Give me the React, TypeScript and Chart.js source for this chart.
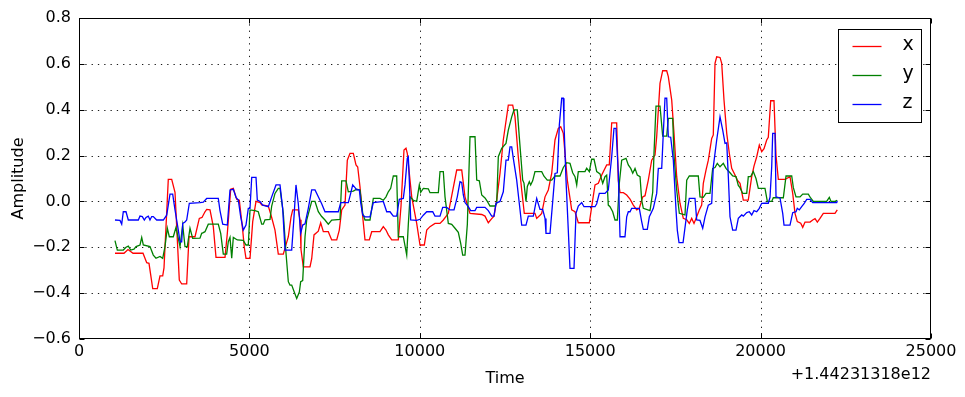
import React, { useEffect, useRef } from 'react';
import { Chart, registerables } from 'chart.js';

Chart.register(...registerables);

const FONT = 'DejaVu Sans';

const xTicks = [0, 5000, 10000, 15000, 20000, 25000];
const yTicks = [-0.6, -0.4, -0.2, 0, 0.2, 0.4, 0.6, 0.8];
const offsetLabel = '+1.44231318e12';
const seriesNames = ['x', 'y', 'z'];
const seriesColors = ['#ff0000', '#008000', '#0000ff'];

const seriesX: [number, number][] = [
  [1056,-0.226],[1320,-0.226],[1438,-0.21],[1585,-0.226],[1878,-0.226],[1987,-0.267],[2054,-0.27],[2163,-0.38],[2298,-0.38],[2377,-0.325],
  [2456,-0.325],[2494,-0.29],[2620,0.096],[2720,0.096],[2817,0.04],[2943,-0.343],[3014,-0.36],[3160,-0.36],[3228,-0.154],[3404,-0.154],
  [3530,-0.074],[3609,-0.07],[3697,-0.045],[3747,-0.035],[3844,-0.037],[3941,-0.11],[4020,-0.244],[4284,-0.244],[4352,-0.14],[4451,0.053],
  [4528,0.057],[4627,0.009],[4704,0.005],[4803,-0.125],[4850,-0.2],[4900,-0.248],[5018,-0.248],[5097,-0.088],[5194,0],[5311,-0.005],
  [5361,-0.015],[5555,-0.02],[5654,-0.07],[5751,-0.125],[5848,-0.23],[5995,-0.23],[6142,-0.154],[6220,-0.07],[6271,-0.037],[6435,-0.037],
  [6485,-0.08],[6514,-0.21],[6582,-0.285],[6778,-0.285],[6828,-0.25],[6896,-0.146],[7022,-0.13],[7092,-0.093],[7169,-0.132],[7315,-0.132],
  [7415,-0.168],[7562,-0.168],[7638,-0.125],[7708,-0.037],[7805,-0.016],[7873,0.18],[7952,0.21],[8049,0.21],[8128,0.159],[8178,0.15],
  [8245,0.064],[8325,-0.067],[8392,-0.168],[8518,-0.168],[8589,-0.132],[8832,-0.132],[8929,-0.11],[9008,-0.125],[9076,-0.146],[9176,-0.168],
  [9369,-0.168],[9449,-0.02],[9536,0.224],[9595,0.232],[9633,0.21],[9763,0.02],[9909,-0.096],[10006,-0.19],[10132,-0.19],[10203,-0.125],
  [10299,-0.11],[10446,-0.096],[10593,-0.096],[10690,-0.081],[10837,-0.052],[11083,0.137],[11230,0.137],[11326,0.02],[11473,-0.052],[11817,-0.057],
  [11913,-0.064],[12010,-0.093],[12110,-0.075],[12177,-0.064],[12256,0.006],[12353,0.122],[12450,0.268],[12597,0.42],[12726,0.42],[12793,0.37],
  [12890,0.195],[12990,0.05],[13066,-0.052],[13380,-0.052],[13430,-0.074],[13527,-0.06],[13577,-0.052],[13674,0.02],[13771,0.05],[13870,0.122],
  [13967,0.268],[14064,0.319],[14135,0.326],[14211,0.297],[14328,0.093],[14457,-0.037],[14554,-0.045],[14651,-0.093],[14974,-0.093],[15073,0.006],
  [15141,0.072],[15238,0.079],[15338,0.115],[15484,0.159],[15560,0.159],[15631,0.343],[15777,0.343],[15825,0.09],[15875,0.038],[15973,0.038],
  [16071,0.028],[16169,0.01],[16265,-0.016],[16365,-0.037],[16441,-0.03],[16541,0.02],[16609,0.025],[16705,0.093],[16805,0.18],[16902,0.202],
  [16951,0.282],[17048,0.515],[17127,0.57],[17245,0.57],[17292,0.544],[17392,0.442],[17459,0.297],[17538,0.108],[17635,-0.008],[17732,-0.074],
  [17832,-0.08],[17908,-0.096],[17978,-0.074],[18046,-0.096],[18125,-0.067],[18201,-0.037],[18271,-0.016],[18319,0.079],[18398,0.137],[18466,0.18],
  [18565,0.275],[18612,0.29],[18662,0.602],[18712,0.631],[18809,0.628],[18859,0.602],[18926,0.442],[19006,0.297],[19082,0.21],[19152,0.144],
  [19249,0.115],[19317,0.093],[19396,0.079],[19493,0.006],[19639,0.006],[19739,0.108],[19806,0.154],[19886,0.195],[19962,0.246],[20032,0.217],
  [20100,0.23],[20179,0.268],[20226,0.28],[20296,0.439],[20393,0.439],[20452,0.2],[20520,0.096],[20716,0.096],[20863,0.108],[20942,0.035],
  [21010,-0.052],[21077,-0.088],[21177,-0.095],[21236,-0.113],[21304,-0.09],[21451,-0.09],[21529,-0.081],[21597,-0.075],[21665,-0.09],[21743,-0.074],
  [21840,-0.052],[22183,-0.052],[22250,-0.037],
];

const seriesY: [number, number][] = [
  [1056,-0.171],[1124,-0.212],[1300,-0.212],[1379,-0.2],[1447,-0.195],[1517,-0.212],[1614,-0.208],[1673,-0.197],[1790,-0.19],[1840,-0.157],
  [1887,-0.19],[2083,-0.197],[2180,-0.234],[2259,-0.248],[2377,-0.24],[2456,-0.248],[2523,-0.197],[2591,-0.117],[2650,-0.154],[2767,-0.154],
  [2846,-0.113],[2914,-0.161],[2964,-0.197],[3043,-0.103],[3110,-0.197],[3178,-0.197],[3257,-0.117],[3336,-0.161],[3550,-0.16],[3600,-0.139],
  [3647,-0.136],[3697,-0.132],[3794,-0.099],[4087,-0.099],[4158,-0.139],[4234,-0.23],[4333,-0.23],[4381,-0.176],[4431,-0.157],[4481,-0.248],
  [4528,-0.157],[4645,-0.168],[4821,-0.17],[4900,-0.19],[4968,-0.19],[5018,-0.037],[5164,-0.04],[5261,-0.045],[5361,-0.099],[5408,-0.099],
  [5458,-0.08],[5605,-0.078],[5654,-0.02],[5751,0.035],[5848,0.057],[5898,0.057],[5995,-0.052],[6074,-0.226],[6142,-0.35],[6191,-0.365],
  [6241,-0.365],[6338,-0.404],[6388,-0.423],[6465,-0.395],[6505,-0.35],[6564,-0.345],[6632,-0.154],[6681,-0.081],[6828,0],[6925,0],
  [7022,-0.045],[7121,-0.066],[7218,-0.081],[7315,-0.099],[7415,-0.081],[7659,-0.078],[7708,0.09],[7835,0.09],[7902,0.042],[8049,0.045],
  [8149,0.053],[8245,0.05],[8325,-0.052],[8392,-0.081],[8539,-0.081],[8636,0.013],[8832,0.013],[8929,0.005],[9008,0.02],[9076,0.042],
  [9146,0.057],[9223,0.111],[9322,0.111],[9369,-0.154],[9516,-0.154],[9616,-0.234],[9663,-0.1],[9713,0.02],[9810,0.005],[9909,0],
  [9986,0.072],[10026,0.04],[10103,0.057],[10250,0.055],[10299,0.038],[10544,0.038],[10593,0.13],[10690,0.13],[10740,0.02],[10837,-0.096],
  [10936,-0.1],[11033,-0.117],[11130,-0.135],[11200,-0.183],[11259,-0.234],[11326,-0.234],[11395,-0.1],[11473,0.282],[11620,0.282],[11670,0.093],
  [11747,0.09],[11817,0.028],[11913,0.015],[11981,0],[12060,-0.02],[12207,-0.02],[12256,-0.008],[12304,0.195],[12403,0.232],[12529,0.253],
  [12597,0.311],[12697,0.369],[12764,0.399],[12861,0.399],[12919,0.282],[13019,0.093],[13057,0.08],[13116,0],[13155,0.065],[13214,0.086],
  [13253,0.072],[13312,0.09],[13380,0.13],[13577,0.13],[13644,0.11],[13741,0.093],[13870,0.093],[13967,0.111],[14114,0.111],[14211,0.148],
  [14311,0.169],[14407,0.166],[14486,0.125],[14554,0.108],[14604,0.072],[14651,0.13],[14847,0.13],[14897,0.145],[14974,0.13],[15044,0.184],
  [15112,0.184],[15191,0.13],[15288,0.12],[15367,0.079],[15434,0.108],[15484,0.115],[15531,-0.016],[15581,-0.023],[15660,-0.045],[15728,-0.081],
  [15796,-0.081],[15854,0.079],[15924,0.18],[16051,0.188],[16118,0.159],[16189,0.144],[16248,0.123],[16315,0.144],[16382,0.115],[16462,0.108],
  [16511,0.006],[16559,-0.03],[16755,-0.04],[16834,0.04],[16872,0.21],[16931,0.416],[17048,0.416],[17127,0.285],[17245,0.285],[17292,0.362],
  [17421,0.362],[17459,0.2],[17538,0.05],[17615,-0.052],[17782,-0.059],[17832,0.093],[17908,0.111],[18172,0.111],[18222,0.02],[18319,0.018],
  [18398,0.035],[18515,0.035],[18594,0.144],[18662,0.148],[18729,0.166],[18809,0.151],[18906,0.166],[18985,0.144],[19102,0.125],[19181,0.111],
  [19278,0.108],[19346,0.07],[19396,0.06],[19475,0.035],[19592,0.035],[19639,0.108],[19709,0.108],[19786,0.13],[19865,0.1],[19933,0.057],
  [20129,0.057],[20197,0],[20326,0],[20373,0.016],[20667,0.016],[20746,0.111],[20913,0.111],[20961,0.06],[21039,0.02],[21157,0.02],
  [21236,0.032],[21400,0.032],[21468,0.015],[21547,0],[21939,0],[22016,0.018],[22065,0],[22183,0],[22250,0.005],
];

const seriesZ: [number, number][] = [
  [1056,-0.081],[1203,-0.083],[1253,-0.099],[1300,-0.045],[1379,-0.045],[1447,-0.081],[1741,-0.081],[1790,-0.064],[1858,-0.066],[1917,-0.081],
  [1966,-0.07],[2033,-0.064],[2083,-0.081],[2133,-0.066],[2180,-0.066],[2279,-0.081],[2474,-0.081],[2573,-0.06],[2620,-0.016],[2670,0.032],
  [2749,0.032],[2817,-0.037],[2866,-0.081],[2914,-0.125],[2964,-0.176],[3014,-0.176],[3043,-0.096],[3110,-0.09],[3160,-0.081],[3237,-0.008],
  [3550,-0.005],[3647,-0.003],[3747,0.013],[4087,0.013],[4137,-0.04],[4217,-0.099],[4352,-0.103],[4431,0.05],[4528,0.053],[4607,0.018],
  [4675,0.006],[4745,-0.067],[4821,-0.125],[4900,-0.103],[4968,-0.03],[5018,-0.03],[5068,0.105],[5194,0.105],[5232,0.006],[5311,0],
  [5390,-0.016],[5555,-0.023],[5654,0.02],[5781,0.072],[5898,0.072],[5976,-0.03],[6045,-0.212],[6241,-0.212],[6309,-0.067],[6367,0.072],
  [6435,-0.01],[6505,-0.139],[6564,-0.103],[6632,-0.098],[6728,-0.03],[6828,0.05],[6925,0.05],[7022,0.02],[7121,-0.01],[7218,-0.045],
  [7609,-0.045],[7679,-0.005],[7902,-0.005],[7972,0.035],[8031,0.072],[8099,0.06],[8149,0.05],[8226,0.05],[8265,-0.005],[8325,-0.059],
  [8392,-0.067],[8539,-0.067],[8636,-0.005],[8929,0],[9029,-0.045],[9126,-0.045],[9223,-0.064],[9322,-0.064],[9398,0.009],[9516,0.013],
  [9566,0.072],[9633,0.188],[9663,0.195],[9693,0.09],[9733,-0.081],[9909,-0.083],[10006,-0.078],[10103,-0.06],[10203,-0.045],[10379,-0.045],
  [10446,-0.064],[10593,-0.064],[10672,-0.026],[10790,-0.026],[10886,-0.037],[11004,-0.037],[11100,0.02],[11180,0.086],[11230,0.083],[11277,0.028],
  [11326,-0.005],[11423,-0.023],[11494,-0.04],[11620,-0.04],[11670,-0.026],[11913,-0.026],[12010,-0.04],[12110,-0.064],[12177,-0.064],[12236,-0.008],
  [12353,0],[12450,0.042],[12529,0.18],[12597,0.18],[12647,0.238],[12697,0.238],[12744,0.188],[12843,0.093],[12919,-0.008],[12990,-0.103],
  [13116,-0.103],[13184,-0.064],[13331,-0.064],[13430,0.013],[13527,-0.035],[13605,-0.035],[13674,-0.074],[13703,-0.139],[13821,-0.139],[13900,0],
  [13967,0.122],[14035,0.125],[14094,0.333],[14164,0.45],[14211,0.45],[14231,0.34],[14290,0.093],[14357,-0.125],[14407,-0.292],[14525,-0.292],
  [14583,-0.052],[14651,-0.02],[14751,-0.005],[14818,-0.023],[15141,-0.023],[15191,-0.01],[15267,0.035],[15434,0.035],[15531,0.05],[15631,0.195],
  [15698,0.319],[15757,0.319],[15825,0.122],[15875,-0.154],[16021,-0.154],[16071,-0.067],[16118,-0.045],[16169,-0.045],[16218,-0.03],[16441,-0.03],
  [16511,-0.088],[16559,-0.122],[16676,-0.122],[16735,-0.067],[16805,-0.045],[16852,-0.03],[16951,0.035],[16999,0.144],[17098,0.144],[17145,0.297],
  [17195,0.45],[17245,0.45],[17292,0.282],[17362,0.28],[17439,0.18],[17518,-0.037],[17556,-0.125],[17606,-0.18],[17725,-0.18],[17849,-0.037],
  [17908,0.013],[18075,0.013],[18125,-0.081],[18222,-0.083],[18301,-0.117],[18369,-0.067],[18466,-0.016],[18565,-0.008],[18612,0.151],[18712,0.268],
  [18809,0.369],[18888,0.311],[18956,0.253],[19006,0.255],[19053,0.108],[19102,-0.067],[19181,-0.125],[19278,-0.125],[19346,-0.074],[19446,-0.059],
  [19493,-0.064],[19592,-0.049],[19669,-0.045],[19739,-0.059],[19806,-0.04],[19886,-0.045],[19962,-0.03],[20032,-0.008],[20129,-0.007],[20226,-0.008],
  [20276,0.018],[20326,0.151],[20355,0.297],[20423,0.297],[20452,0.02],[20569,0.015],[20649,-0.052],[20687,-0.103],[20863,-0.103],[20942,-0.049],
  [21039,-0.045],[21077,-0.03],[21136,-0.037],[21206,-0.023],[21275,-0.01],[21353,0.009],[21451,0.009],[21529,-0.005],[22233,-0.005],[22250,0.002],
];

const allSeries = [seriesX, seriesY, seriesZ];

const fmtY = (v: number) => {
  if (Math.abs(v) < 1e-9) return '0.0';
  return v.toFixed(1).replace('-', '\u2212');
};

const framePlugin = {
  id: 'mplFrame',
  beforeDatasetsDraw(chart: any) {
    const { ctx, chartArea: a, scales } = chart;
    ctx.save();
    ctx.strokeStyle = 'rgba(0,0,0,0.9)';
    ctx.lineWidth = 1;
    ctx.setLineDash([1.3, 5]);
    ctx.beginPath();
    xTicks.forEach((t) => {
      const p = Math.round(scales.x.getPixelForValue(t)) + 0.5;
      if (p > a.left + 2 && p < a.right - 2) {
        ctx.moveTo(p, a.top);
        ctx.lineTo(p, a.bottom);
      }
    });
    yTicks.forEach((t) => {
      const p = Math.round(scales.y.getPixelForValue(t)) + 0.5;
      if (p > a.top + 2 && p < a.bottom - 2) {
        ctx.moveTo(a.left, p);
        ctx.lineTo(a.right, p);
      }
    });
    ctx.stroke();
    ctx.restore();
  },
  afterDatasetsDraw(chart: any) {
    const { ctx, chartArea: a, scales } = chart;
    const L = Math.round(a.left) + 0.5;
    const R = Math.round(a.right) - 0.5;
    const T = Math.round(a.top) + 0.5;
    const B = Math.round(a.bottom) - 0.5;
    ctx.save();
    ctx.strokeStyle = '#000';
    ctx.lineWidth = 1;
    ctx.setLineDash([]);
    ctx.beginPath();
    xTicks.forEach((t) => {
      const p = Math.round(scales.x.getPixelForValue(t)) + 0.5;
      ctx.moveTo(p, B); ctx.lineTo(p, B - 5);
      ctx.moveTo(p, T); ctx.lineTo(p, T + 5);
    });
    yTicks.forEach((t) => {
      const p = Math.round(scales.y.getPixelForValue(t)) + 0.5;
      ctx.moveTo(L, p); ctx.lineTo(L + 5, p);
      ctx.moveTo(R, p); ctx.lineTo(R - 5, p);
    });
    ctx.stroke();
    ctx.strokeRect(L, T, R - L, B - T);

    // legend
    const lw = 83, lh = 93;
    const lx = Math.round(a.right) - 10 - lw + 0.5;
    const ly = Math.round(a.top) + 11 + 0.5;
    ctx.fillStyle = '#fff';
    ctx.fillRect(lx, ly, lw, lh);
    ctx.strokeStyle = '#000';
    ctx.strokeRect(lx, ly, lw, lh);
    ctx.font = `19px "${FONT}"`;
    ctx.textAlign = 'left';
    ctx.textBaseline = 'middle';
    chart.data.datasets.forEach((ds: any, i: number) => {
      const yy = Math.round(ly + 16 + i * 29) + 0.5;
      ctx.strokeStyle = ds.borderColor;
      ctx.lineWidth = 1.3;
      ctx.beginPath();
      ctx.moveTo(lx + 14, yy);
      ctx.lineTo(lx + 43, yy);
      ctx.stroke();
      ctx.fillStyle = '#000';
      ctx.fillText(ds.label, lx + 64, yy - 1);
    });

    // offset text
    ctx.font = `16px "${FONT}"`;
    ctx.textAlign = 'right';
    ctx.textBaseline = 'middle';
    ctx.fillStyle = '#000';
    ctx.fillText(offsetLabel, a.right, 375);
    ctx.restore();
  },
};

export default function App() {
  const ref = useRef<HTMLCanvasElement | null>(null);
  useEffect(() => {
    if (!ref.current) return;
    const font = { family: FONT, size: 16 };
    const chart = new Chart(ref.current, {
      type: 'line',
      data: {
        datasets: allSeries.map((s, i) => ({
          label: seriesNames[i],
          data: s.map(([t, v]) => ({ x: t, y: v })),
          borderColor: seriesColors[i],
          backgroundColor: seriesColors[i],
          borderWidth: 1.3,
          pointRadius: 0,
          tension: 0,
          fill: false,
          order: 2 - i,
        })),
      },
      options: {
        responsive: false,
        animation: false,
        events: [],
        layout: { padding: { top: 18, right: 34, left: 0, bottom: 0 } },
        plugins: { legend: { display: false }, tooltip: { enabled: false } },
        scales: {
          x: {
            type: 'linear',
            min: 0,
            max: 25000,
            afterBuildTicks: (s: any) => { s.ticks = xTicks.map((v) => ({ value: v })); },
            ticks: { color: '#000', font, padding: 3, maxRotation: 0, autoSkip: false, callback: (v: any) => String(v) },
            grid: { display: false, drawTicks: false },
            border: { display: false },
            title: { display: true, text: 'Time', color: '#000', font, padding: { top: 0, bottom: 9 } },
            afterFit: (s: any) => { s.height = 58; },
          },
          y: {
            type: 'linear',
            min: -0.6,
            max: 0.8,
            afterBuildTicks: (s: any) => { s.ticks = yTicks.map((v) => ({ value: v })); },
            ticks: { color: '#000', font, padding: 8, autoSkip: false, callback: (v: any) => fmtY(Number(v)) },
            grid: { display: false, drawTicks: false },
            border: { display: false },
            title: { display: true, text: 'Amplitude', color: '#000', font, padding: { top: 9, bottom: 0 } },
            afterFit: (s: any) => { s.width = 79; },
          },
        },
      },
      plugins: [framePlugin],
    } as any);
    return () => chart.destroy();
  }, []);
  return (
    <div style={{ position: 'absolute', left: 0, top: 0, width: 965, height: 397, background: '#fff' }}>
      <canvas ref={ref} width={965} height={397} />
    </div>
  );
}
